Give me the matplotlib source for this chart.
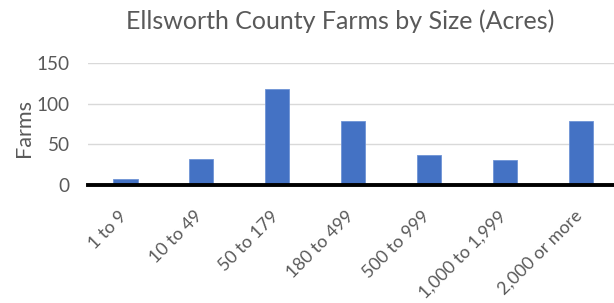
import matplotlib
matplotlib.use("Agg")
import matplotlib.pyplot as plt
from matplotlib.transforms import ScaledTranslation

categories = ["1 to 9", "10 to 49", "50 to 179", "180 to 499", "500 to 999", "1,000 to 1,999", "2,000 or more"]
farms = [7, 32, 118, 79, 37, 30, 79]
yticks = [0, 50, 100, 150]
title = "Ellsworth County Farms by Size (Acres)"
ylabel = "Farms"

plt.rcParams['font.family'] = ['Lato', 'DejaVu Sans']
grey = '#595959'

fig = plt.figure(figsize=(6.14, 3.03), dpi=100)
renderer = fig.canvas.get_renderer()

def fit_size(s, target_px):
    t = fig.text(0, 0, s, fontsize=10)
    w = t.get_window_extent(renderer).width
    t.remove()
    return 10 * target_px / w

fs_title = fit_size(title, 428)
fs_xt = fit_size("1,000 to 1,999", 116)
fs_yt = fit_size("150", 33)
fs_yl = fit_size(ylabel, 58)

ax = fig.add_axes([87.5/614, (303-184.5)/303, (614-87.5)/614, (184.5-62.5)/303])
x = list(range(len(categories)))
ax.bar(x, farms, width=0.32, color='#4472C4', edgecolor='#6E93D6', linewidth=0.6, zorder=3)
ax.set_xlim(-0.5, 6.5 - 4.6/75.8)
ax.set_ylim(0, 151.2)
ax.set_yticks(yticks)
ax.set_yticklabels([str(v) for v in yticks], fontsize=fs_yt, color=grey)
ax.yaxis.grid(True, color='#D9D9D9', linewidth=1.0, zorder=0)
ax.tick_params(axis='y', length=0, pad=13)
ax.tick_params(axis='x', length=0, pad=0)
ax.set_xticks(x)
ax.set_xticklabels(categories, rotation=45, ha='right', va='baseline', rotation_mode='anchor', fontsize=fs_xt, color=grey)
for lbl in ax.get_xticklabels():
    lbl.set_transform(lbl.get_transform() + ScaledTranslation(2/100, -32.5/100, fig.dpi_scale_trans))
for s in ['top', 'right', 'left']:
    ax.spines[s].set_visible(False)
ax.spines['bottom'].set_color('black')
ax.spines['bottom'].set_linewidth(2.8)
ax.spines['bottom'].set_zorder(4)
ax.set_ylabel(ylabel, fontsize=fs_yl, color=grey)
ax.yaxis.set_label_coords(-(87.5-24)/(614-87.5), (184.5-128)/(184.5-62.5))
ax.yaxis.label.set_va('center')
fig.text(340.5/614, 1 - 21/303, title, ha='center', va='center', fontsize=fs_title, color=grey)
fig.savefig('out.png', dpi=100)
